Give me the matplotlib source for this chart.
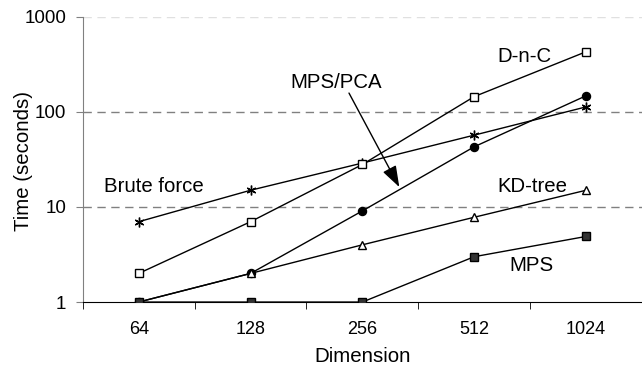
import matplotlib.pyplot as plt

plt.rcParams['font.family'] = ['Liberation Sans', 'DejaVu Sans']

dims = ['64', '128', '256', '512', '1024']
brute_force = [7, 15, 29, 57, 113]
dnc = [2, 7, 28, 145, 430]
mps_pca = [1, 2, 9.1, 43, 148]
kd_tree = [1, 2, 4, 7.8, 15]
mps = [1, 1, 1, 3, 4.9]

fig = plt.figure(figsize=(6.42, 3.67), dpi=100)
ax = fig.add_axes([0.129, 0.177, 0.871, 0.777])

x = range(len(dims))
ax.plot(x, brute_force, color='black', lw=1, marker=(6, 2, 0), ms=7, mew=1, zorder=3)
ax.plot(x, dnc, color='black', lw=1, marker='s', ms=5.2, mfc='white', mec='black', mew=1, zorder=3)
ax.plot(x, mps_pca, color='black', lw=1, marker='o', ms=5.8, mfc='black', mec='black', zorder=3)
ax.plot(x, kd_tree, color='black', lw=1, marker='^', ms=6, mfc='white', mec='black', mew=1, zorder=3)
ax.plot(x, mps, color='black', lw=1, marker='s', ms=5.2, mfc='#333333', mec='black', mew=1, zorder=3)

ax.set_yscale('log')
ax.set_ylim(1, 1000)
ax.set_xlim(-0.5, 4.43)
ax.set_yticks([1, 10, 100, 1000])
ax.set_yticklabels(['1', '10', '100', '1000'])
ax.minorticks_off()
ax.set_xticks(list(x))
ax.set_xticklabels(dims)
ax.set_xticks([i + 0.5 for i in range(-1, 5)], minor=True)
ax.tick_params(axis='x', which='major', length=0, pad=14, labelsize=13)
ax.tick_params(axis='x', which='minor', length=5, color='black', direction='out')
ax.tick_params(axis='y', which='major', length=5, color='#808080', labelsize=13.5, pad=7)

for v, c in [(10, '#808080'), (100, '#808080'), (1000, '#e0e0e0')]:
    ax.axhline(v, color=c, lw=1, ls=(0, (6, 4)), zorder=1)

for s in ['top', 'right']:
    ax.spines[s].set_visible(False)
ax.spines['left'].set_color('#808080')
ax.spines['bottom'].set_color('black')

ax.set_xlabel('Dimension', fontsize=14.8, labelpad=6)
ax.set_ylabel('Time (seconds)', fontsize=14.7, va='center')
ax.yaxis.set_label_coords(-0.106, 0.495)

ax.text(3.445, 380, 'D-n-C', fontsize=14.7, ha='center', va='center')
ax.text(1.77, 202, 'MPS/PCA', fontsize=14.7, ha='center', va='center')
ax.text(0.135, 16.6, 'Brute force', fontsize=14.7, ha='center', va='center')
ax.text(3.516, 16.6, 'KD-tree', fontsize=14.7, ha='center', va='center')
ax.text(3.507, 2.45, 'MPS', fontsize=14.7, ha='center', va='center')
ax.annotate('', xy=(2.33, 16.2), xytext=(1.88, 158),
            arrowprops=dict(arrowstyle='-|>,head_length=1.3,head_width=0.45',
                            color='black', lw=1, shrinkA=0, shrinkB=0))

fig.savefig('out.png', dpi=100)
